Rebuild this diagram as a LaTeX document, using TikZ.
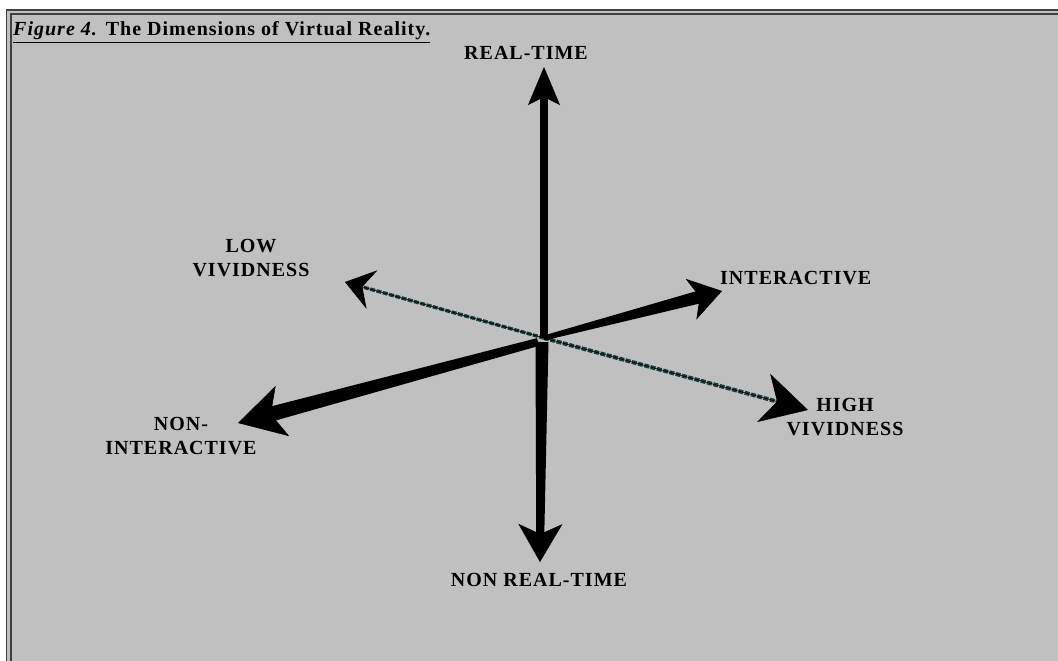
\documentclass[tikz,border=0pt]{standalone}
\usepackage{fontspec}
\setmainfont{Liberation Serif}
\newfontfamily\lblfont[LetterSpace=5]{Liberation Serif}
\usetikzlibrary{arrows.meta,calc}
\definecolor{bg}{HTML}{C0C0C0}
\definecolor{frame}{HTML}{404040}
\definecolor{thinc}{HTML}{1E3C3C}
\tikzset{
  lbl/.style={font=\lblfont\fontsize{20}{24}\selectfont\bfseries, inner sep=0pt, align=center, text=black},
  tipline/.style={draw=black, line width=0.6pt, line cap=butt},
  thin axis/.style={draw=thinc, line width=#1, line cap=butt, dash pattern=on 5pt off 1.5pt},
}
% tapered shaft: #1 start, #2 tip, #3 half width at start, #4 half width near head, #5 head offset
\newcommand\myshaft[5]{%
  \fill[black] ($(#1)!#3!90:(#2)$) -- ($($(#2)!#5!(#1)$)!#4!-90:(#1)$)
     -- ($($(#2)!#5!(#1)$)!#4!90:(#1)$) -- ($(#1)!#3!-90:(#2)$) -- cycle;}
\begin{document}
\begin{tikzpicture}[x=1pt,y=-1pt]
\useasboundingbox (0,0) rectangle (1058,661);
\fill[white] (0,0) rectangle (1058,661);
\fill[bg] (6,9.5) rectangle (1058,661);
\draw[frame, line width=1.3pt] (6,10) -- (1058,10);
\draw[frame, line width=1.5pt] (11,14.2) -- (1058,14.2);
\draw[frame, line width=1.3pt] (6.5,9.5) -- (6.5,661);
\draw[frame, line width=1.5pt] (11,13.5) -- (11,661);
\node[font=\lblfont\fontsize{20}{24}\selectfont\bfseries, anchor=base west, inner sep=0pt] (title) at (13,36)
  {\underline{\textit{Figure 4.} The Dimensions of Virtual Reality.}};
\coordinate (c) at (544,338);
\coordinate (cl) at (538,342);
\coordinate (cd) at (542,342);
\coordinate (up) at (544,67);
\coordinate (down) at (540,562);
\coordinate (inter) at (722,291);
\coordinate (noninter) at (238,423);
\coordinate (low) at (345,282);
\coordinate (high) at (808,410);
\node[lbl] (rt) at (526,53) {REAL-TIME};
\node[lbl] (nrt) at (539,580) {NON REAL-TIME};
\node[lbl, anchor=west] (li) at (720,278) {INTERACTIVE};
\node[lbl] (lni) at (181,436) {NON-\\INTERACTIVE};
\node[lbl] (llv) at (251,258) {LOW\\VIVIDNESS};
\node[lbl] (lhv) at (845,417) {HIGH\\VIVIDNESS};
% vividness (thin) axes
\draw[thin axis=3.5pt] (c) -- ($(low)!14pt!(c)$);
\path[tipline, -{Stealth[length=28pt,width=40pt,inset=10pt,black]}] (c) -- (low);
\draw[thin axis=4pt] (c) -- ($(high)!20pt!(c)$);
\path[tipline, -{Stealth[length=46pt,width=50pt,inset=14pt,black]}] (c) -- (high);
% time axis
\myshaft{c}{up}{4pt}{4pt}{25pt}
\path[tipline, -{Stealth[length=38pt,width=32pt,inset=8pt]}] (c) -- (up);
\myshaft{cd}{down}{6.5pt}{4pt}{25pt}
\path[tipline, -{Stealth[length=38pt,width=44pt,inset=10pt]}] (cd) -- (down);
% interactivity axis
\myshaft{c}{inter}{2.5pt}{6.5pt}{20pt}
\path[tipline, -{Stealth[length=32pt,width=42pt,inset=9pt]}] (c) -- (inter);
\myshaft{cl}{noninter}{4pt}{7.5pt}{28pt}
\path[tipline, -{Stealth[length=46pt,width=52pt,inset=12pt]}] (cl) -- (noninter);
\end{tikzpicture}
\end{document}
